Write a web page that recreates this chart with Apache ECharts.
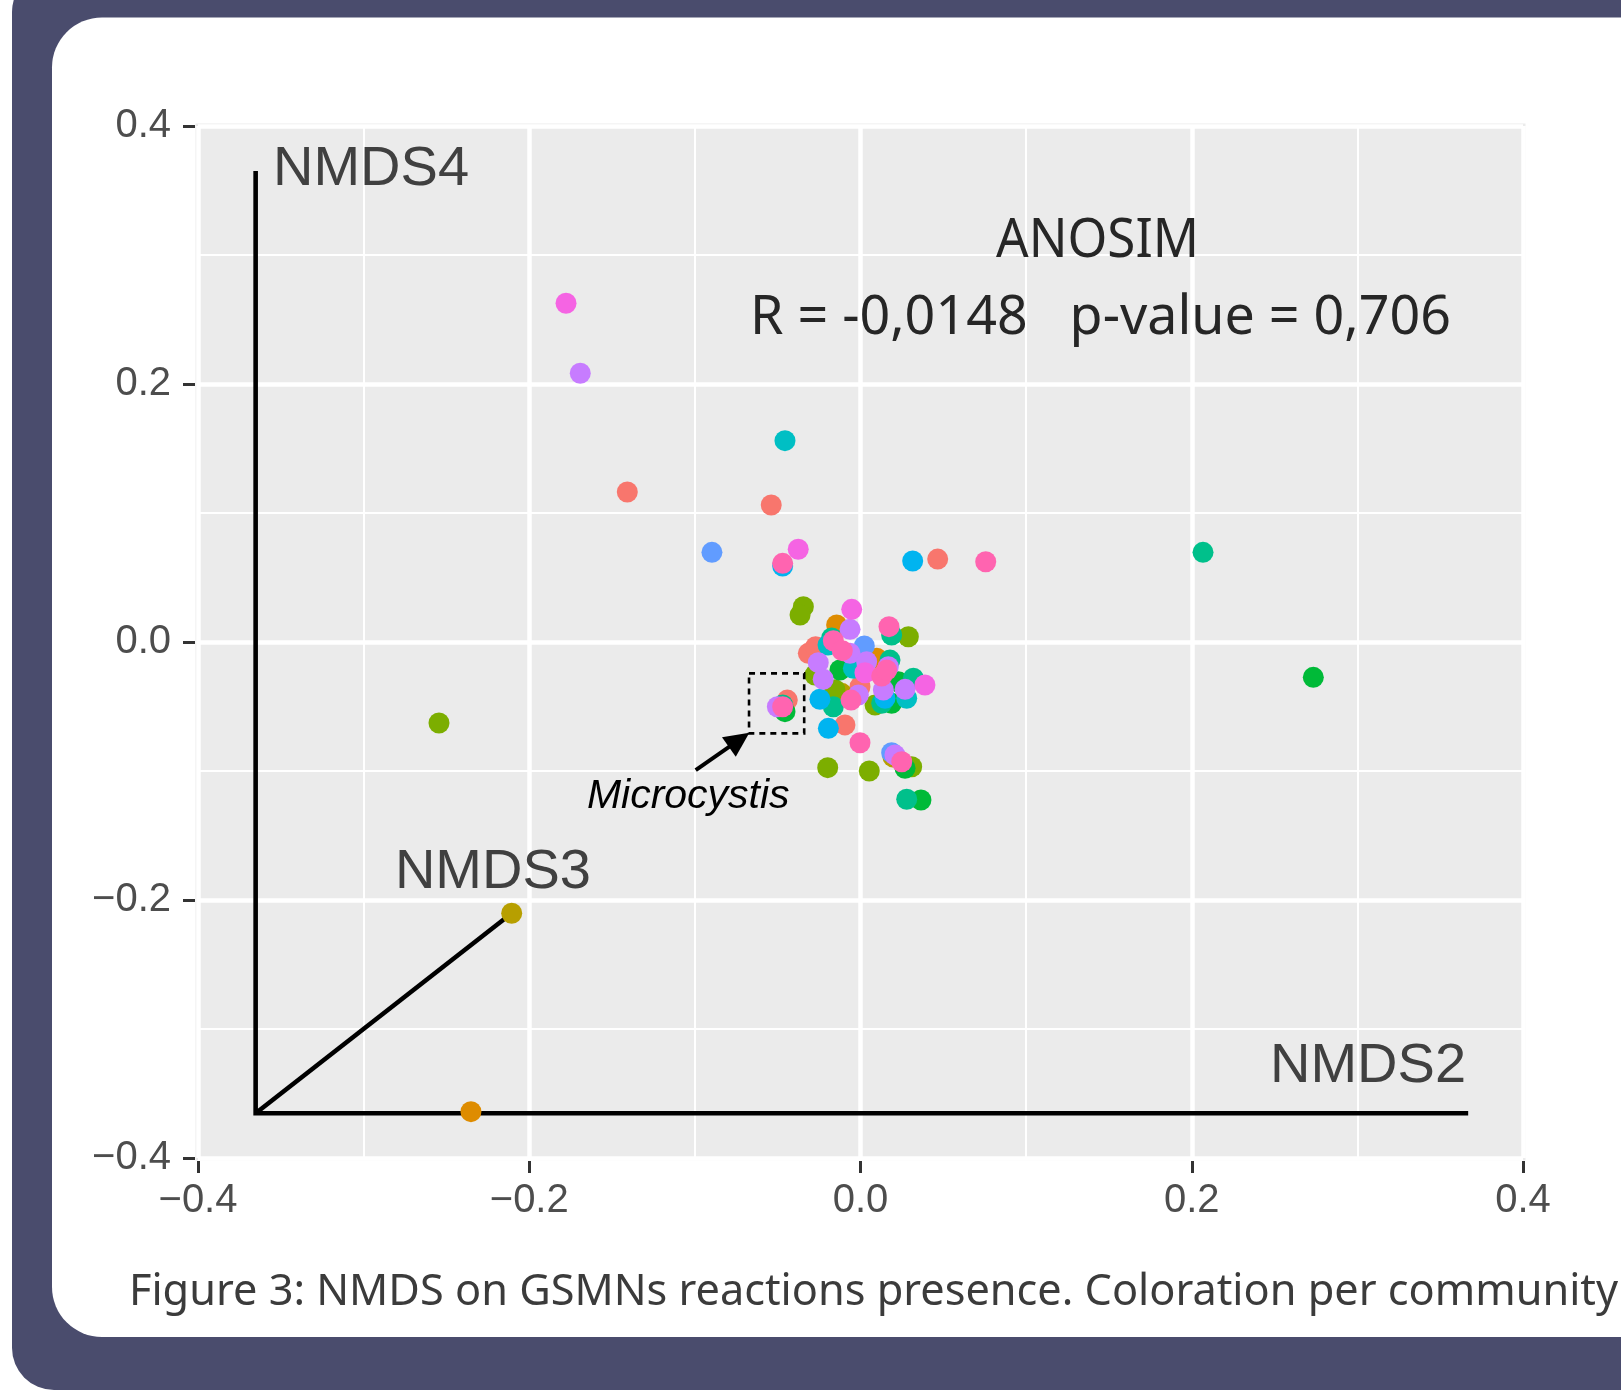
<!DOCTYPE html>
<html><head><meta charset="utf-8">
<script src="https://cdn.jsdelivr.net/npm/echarts@6/dist/echarts.min.js"></script>
<style>html,body{margin:0;padding:0;background:#fff;overflow:hidden}#c{width:1621px;height:1394px}</style>
</head><body><div id="c"></div>
<script>
// ---- data (NMDS2, NMDS4 scores per community) ----
const communityNames = ['C01','C02','C03','C04','C05','C06','C07','C08','C09','C10','C11','C12'];
const communityColors = ['#F8766D','#DE8C00','#B79F00','#7CAE00','#00BA38','#00C08B','#00BFC4','#00B4F0','#619CFF','#C77CFF','#F564E3','#FF64B0'];
const community01 = [[-0.1408,0.1163],[-0.0539,0.1062],[0.0466,0.0643],[-0.0315,-0.0088],[-0.0271,-0.0036],[-0.0003,-0.0347],[-0.0094,-0.0643],[-0.0442,-0.045]];
const community02 = [[-0.2352,-0.3641],[-0.0144,0.0132],[0.0098,-0.0126]];
const community03 = [[-0.2106,-0.2103],[-0.0114,-0.0398],[0.0196,-0.0891]];
const community04 = [[-0.2545,-0.0628],[-0.0345,0.0274],[-0.0365,0.0209],[0.0289,0.0041],[-0.0275,-0.0256],[0.0088,-0.0488],[0.0309,-0.0967],[-0.0198,-0.0974],[0.0053,-0.1],[-0.0155,-0.037]];
const community05 = [[0.2734,-0.0274],[-0.0124,-0.0217],[0.0228,-0.0308],[0.0188,-0.0475],[0.0269,-0.0979],[0.0365,-0.1225],[-0.0456,-0.054]];
const community06 = [[0.2068,0.0695],[0.0188,0.0054],[-0.0174,0.0031],[0.0178,-0.014],[0.0319,-0.0281],[-0.0164,-0.0502],[0.0128,-0.0475],[0.0279,-0.1219],[-0.047,-0.0488]];
const community07 = [[-0.0456,0.1561],[-0.0196,-0.0023],[-0.0043,-0.0204],[0.0279,-0.0436]];
const community08 = [[-0.047,0.0589],[0.0315,0.0628],[-0.0245,-0.0444],[-0.0194,-0.0669],[0.0148,-0.0436]];
const community09 = [[-0.0897,0.0695],[0.0023,-0.0031],[0.0188,-0.0858]];
const community10 = [[-0.1692,0.2083],[-0.0063,0.0098],[-0.0063,-0.0088],[0.0037,-0.0153],[0.0168,-0.0191],[-0.0255,-0.016],[-0.0225,-0.0289],[0.0269,-0.0367],[0.0138,-0.0372],[-0.0013,-0.0411],[-0.0502,-0.0502],[0.0208,-0.0876]];
const community11 = [[-0.1778,0.2626],[-0.0376,0.0719],[-0.0053,0.0253],[0.0027,-0.0238],[0.0389,-0.0333]];
const community12 = [[-0.047,0.061],[0.0756,0.0622],[0.0172,0.0119],[-0.0164,0.001],[-0.011,-0.0067],[0.0128,-0.0264],[0.0158,-0.0217],[-0.0057,-0.045],[-0.0003,-0.0781],[0.0249,-0.0928],[-0.047,-0.0502]];
const communityData = [community01,community02,community03,community04,community05,community06,community07,community08,community09,community10,community11,community12];

const tickLabels = ['\u22120.4','\u22120.2','0.0','0.2','0.4'];

// pseudo-3D NMDS frame (data coordinates)
const frameAxes = [[-0.3652,0.3651],[-0.3652,-0.3653],[0.3669,-0.3653]];
const frameDiagonal = [[-0.3652,-0.3653],[-0.2106,-0.2103]];
const axisNames = [['NMDS4',[-0.3547,0.3663],'left'],['NMDS3',[-0.2811,-0.1787],'left'],['NMDS2',[0.3656,-0.3295],'right']];
const anosimTitle = ['ANOSIM',[0.1431,0.3105]];
const anosimStats = ['R = -0,0148   p-value = 0,706',[0.1449,0.2512]];
const microcystisLabel = ['Microcystis',[-0.1652,-0.1197]];
const microcystisBox = [[-0.0673,-0.0243],[-0.034,-0.0708]];
const microcystisArrow = [[-0.0995,-0.0994],[-0.0671,-0.0703]];
const caption = 'Figure 3: NMDS on GSMNs reactions presence. Coloration per community';

// ---- helpers ----
const HUMANIST = '"Noto Sans", "Open Sans", sans-serif';
const ARIAL = '"Liberation Sans", Arial, sans-serif';
const mctx = document.createElement('canvas').getContext('2d');
function fitScale(text, size, family, target){ mctx.font = size + 'px ' + family; return target / mctx.measureText(text).width; }

const chart = echarts.init(document.getElementById('c'), null, {renderer:'canvas'});

const scatterSeries = communityNames.map((n,i)=>({
  name:n, type:'scatter', data:communityData[i], symbolSize:21, z:2,
  itemStyle:{color:communityColors[i], opacity:1}, emphasis:{disabled:true}, silent:true
}));

const frameSeries = {
  type:'custom', z:1, silent:true, data:[[0,0]], clip:false,
  renderItem:(params, api)=>{
    const pts = frameAxes.map(p=>api.coord(p));
    const d = frameDiagonal.map(p=>api.coord(p));
    return {type:'group', children:[
      {type:'polyline', shape:{points:pts}, style:{stroke:'#000', lineWidth:4.6, fill:null, lineJoin:'miter'}},
      {type:'line', shape:{x1:d[0][0],y1:d[0][1],x2:d[1][0],y2:d[1][1]}, style:{stroke:'#000', lineWidth:4.6}}
    ]};
  }
};

const annoSeries = {
  type:'custom', z:5, silent:true, data:[[0,0]], clip:false,
  renderItem:(params, api)=>{
    const ch = [];
    axisNames.forEach(([t,p,al])=>{
      const c = api.coord(p);
      ch.push({type:'text', x:c[0], y:c[1], style:{text:t, fontSize:56, fontFamily:ARIAL, fill:'#404040', align:al, verticalAlign:'middle'}});
    });
    [[anosimTitle,203],[anosimStats,701]].forEach(([[t,p],w])=>{
      const c = api.coord(p);
      const s = fitScale(t,55,HUMANIST,w);
      ch.push({type:'text', x:c[0], y:c[1], scaleX:s, style:{text:t, fontSize:55, fontFamily:HUMANIST, fill:'#262626', align:'center', verticalAlign:'middle'}});
    });
    const mc = api.coord(microcystisLabel[1]);
    ch.push({type:'text', x:mc[0], y:mc[1], style:{text:microcystisLabel[0], fontSize:41, fontStyle:'italic', fontFamily:ARIAL, fill:'#000', align:'left', verticalAlign:'middle'}});
    const a = api.coord(microcystisBox[0]), b = api.coord(microcystisBox[1]);
    ch.push({type:'rect', shape:{x:Math.min(a[0],b[0]), y:Math.min(a[1],b[1]), width:Math.abs(b[0]-a[0]), height:Math.abs(b[1]-a[1])},
      style:{fill:null, stroke:'#000', lineWidth:2.6, lineDash:[6,5]}});
    const s0 = api.coord(microcystisArrow[0]), s1 = api.coord(microcystisArrow[1]);
    const dx = s1[0]-s0[0], dy = s1[1]-s0[1], L = Math.hypot(dx,dy), ux = dx/L, uy = dy/L;
    const hl = 25, hw = 12;
    const bx = s1[0]-ux*hl, by = s1[1]-uy*hl;
    ch.push({type:'line', shape:{x1:s0[0],y1:s0[1],x2:bx+ux*2,y2:by+uy*2}, style:{stroke:'#000', lineWidth:4}});
    ch.push({type:'polygon', shape:{points:[[s1[0],s1[1]],[bx-uy*hw,by+ux*hw],[bx+uy*hw,by-ux*hw]]}, style:{fill:'#000'}});
    return {type:'group', children:ch};
  }
};

const axisCommon = {
  type:'value', min:-0.4, max:0.4, interval:0.2, offset:3,
  axisLine:{show:false, onZero:false},
  axisTick:{show:true, length:12, lineStyle:{color:'#333', width:3}},
  minorTick:{show:false, splitNumber:2},
  splitLine:{show:true, lineStyle:{color:'#fff', width:4.5}},
  minorSplitLine:{show:true, lineStyle:{color:'#fff', width:2}},
  axisLabel:{color:'#4d4d4d', fontSize:40, fontFamily:ARIAL,
    formatter:v=>tickLabels[Math.round((v+0.4)/0.2)]}
};

chart.setOption({
  animation:false,
  grid:{left:198, top:126, width:1325, height:1032, show:true, backgroundColor:'#ebebeb', borderColor:'#ebebeb', borderWidth:5, containLabel:false},
  xAxis:Object.assign({}, axisCommon, {position:'bottom', axisLabel:Object.assign({}, axisCommon.axisLabel, {margin:20})}),
  yAxis:Object.assign({}, axisCommon, {position:'left', axisLabel:Object.assign({}, axisCommon.axisLabel, {margin:24})}),
  graphic:{elements:[
    {type:'rect', z:-100, silent:true, shape:{x:12, y:-30, width:1800, height:1420, r:42}, style:{fill:'#4a4c6d'}},
    {type:'rect', z:-99, silent:true, shape:{x:52, y:17.5, width:1800, height:1319.5, r:50}, style:{fill:'#ffffff'}},
    {type:'text', z:-98, silent:true, x:129, y:1293, scaleX:fitScale(caption,43.5,HUMANIST,1489),
      style:{text:caption, fontSize:43.5, fontFamily:HUMANIST, fill:'#3b3b3b', align:'left', verticalAlign:'middle'}}
  ]},
  series:[frameSeries].concat(scatterSeries, [annoSeries])
});
</script></body></html>
